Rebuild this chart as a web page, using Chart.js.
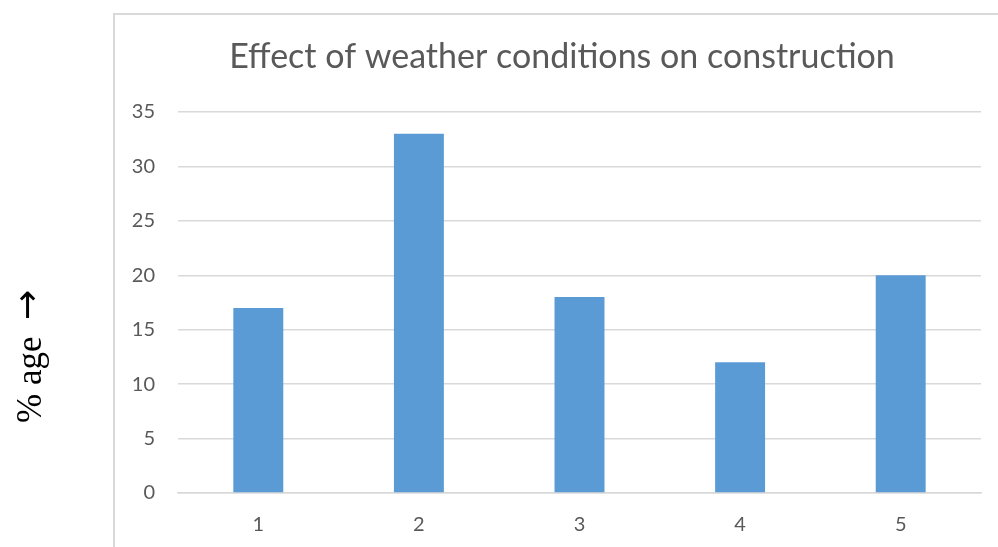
<!DOCTYPE html>
<html>
<head>
<meta charset="utf-8">
<script src="https://cdn.jsdelivr.net/npm/chart.js@4/dist/chart.umd.min.js"></script>
<style>
  html, body { margin: 0; padding: 0; background: #ffffff; }
  #wrap { position: relative; width: 998px; height: 547px; }
</style>
</head>
<body>
<div id="wrap"><canvas id="chart" width="998" height="547"></canvas></div>
<script>
// Share of construction affected, per weather condition group
const categories = ['1', '2', '3', '4', '5'];
const percentages = [17, 33, 18, 12, 20];
const yTicks = [0, 5, 10, 15, 20, 25, 30, 35];
const chartTitle = 'Effect of weather conditions on construction';
const yAxisText = '% age';
const yAxisArrow = '\u2192';

const gridGrey = '#d9d9d9';
const textGrey = '#595959';

// Frame around the plot, title and outside axis caption
const decorations = {
  id: 'decorations',
  beforeDraw(chart) {
    const ctx = chart.ctx;
    ctx.save();
    ctx.strokeStyle = gridGrey;
    ctx.lineWidth = 2;
    ctx.beginPath();
    ctx.moveTo(114, 547);
    ctx.lineTo(114, 14);
    ctx.lineTo(998, 14);
    ctx.stroke();
    ctx.restore();
  },
  afterDraw(chart) {
    const ctx = chart.ctx;
    ctx.save();
    ctx.fillStyle = textGrey;
    ctx.font = '34px Lato';
    ctx.textAlign = 'center';
    ctx.textBaseline = 'middle';
    ctx.fillText(chartTitle, 562, 57);

    // rotated caption: text reads bottom-to-top, arrow pointing up
    ctx.fillStyle = '#000000';
    ctx.translate(30, 0);
    ctx.rotate(-Math.PI / 2);
    ctx.textAlign = 'left';
    ctx.textBaseline = 'middle';
    ctx.font = '35px "Liberation Serif"';
    ctx.fillText(yAxisText, -423, 2);
    ctx.font = '36px "DejaVu Sans"';
    ctx.fillText(yAxisArrow, -320, 0);
    ctx.restore();
  }
};

new Chart(document.getElementById('chart'), {
  type: 'bar',
  data: {
    labels: categories,
    datasets: [{
      data: percentages,
      backgroundColor: '#5b9bd5',
      borderWidth: 0,
      categoryPercentage: 1,
      barPercentage: 0.311
    }]
  },
  options: {
    responsive: false,
    animation: false,
    layout: { padding: { left: 114, right: 17, top: 112, bottom: 0 } },
    plugins: { legend: { display: false }, title: { display: false }, tooltip: { enabled: false } },
    scales: {
      x: {
        afterFit(scale) { scale.height = 54; },
        grid: { display: false, drawTicks: false },
        border: { display: true, color: gridGrey, width: 1.5 },
        ticks: { color: textGrey, font: { family: 'Lato', size: 20 }, padding: 20 }
      },
      y: {
        min: 0,
        max: 35,
        afterFit(scale) { scale.width = 64; },
        afterBuildTicks(scale) { scale.ticks = yTicks.map(v => ({ value: v })); },
        grid: { color: gridGrey, lineWidth: 1.5, drawTicks: false },
        border: { display: false },
        ticks: { color: textGrey, font: { family: 'Lato', size: 20 }, padding: 23 }
      }
    }
  },
  plugins: [decorations]
});
</script>
</body>
</html>
